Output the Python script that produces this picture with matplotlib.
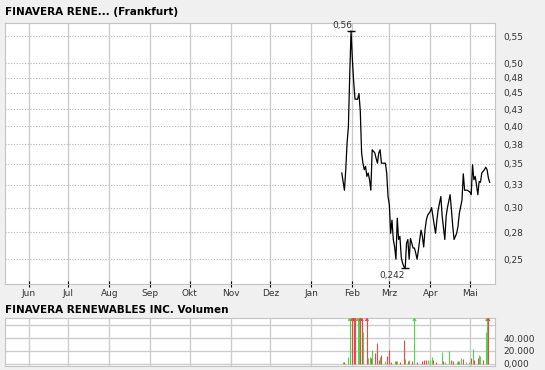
# ------------------------------------------------------------------------------
import numpy as np
import pandas as pd
import matplotlib
matplotlib.use('Agg')
import matplotlib.pyplot as plt
from matplotlib.ticker import FixedLocator, FixedFormatter, NullLocator
# ------------------------------------------------------------------------------
# data
# ------------------------------------------------------------------------------
title_price = 'FINAVERA RENE... (Frankfurt)'
title_volume = 'FINAVERA RENEWABLES INC. Volumen'

price_dates = ['2009-01-24', '2009-01-26', '2009-01-27', '2009-01-28', '2009-01-29',
               '2009-01-30', '2009-01-31', '2009-02-01', '2009-02-02', '2009-02-03',
               '2009-02-05', '2009-02-06', '2009-02-07', '2009-02-08', '2009-02-09',
               '2009-02-10', '2009-02-11', '2009-02-12', '2009-02-13', '2009-02-14',
               '2009-02-15', '2009-02-16', '2009-02-18', '2009-02-19', '2009-02-20',
               '2009-02-21', '2009-02-22', '2009-02-23', '2009-02-26', '2009-02-27',
               '2009-02-28', '2009-03-01', '2009-03-02', '2009-03-03', '2009-03-04',
               '2009-03-05', '2009-03-06', '2009-03-07', '2009-03-08', '2009-03-09',
               '2009-03-10', '2009-03-11', '2009-03-12', '2009-03-13', '2009-03-14',
               '2009-03-15', '2009-03-16', '2009-03-17', '2009-03-18', '2009-03-19',
               '2009-03-20', '2009-03-21', '2009-03-22', '2009-03-23', '2009-03-24',
               '2009-03-25', '2009-03-26', '2009-03-27', '2009-03-28', '2009-03-29',
               '2009-03-30', '2009-04-01', '2009-04-02', '2009-04-04', '2009-04-05',
               '2009-04-06', '2009-04-07', '2009-04-09', '2009-04-10', '2009-04-12',
               '2009-04-13', '2009-04-14', '2009-04-16', '2009-04-17', '2009-04-18',
               '2009-04-19', '2009-04-21', '2009-04-22', '2009-04-23', '2009-04-25',
               '2009-04-26', '2009-04-27', '2009-04-29', '2009-05-01', '2009-05-02',
               '2009-05-03', '2009-05-04', '2009-05-05', '2009-05-06', '2009-05-07',
               '2009-05-08', '2009-05-09', '2009-05-10', '2009-05-11', '2009-05-12',
               '2009-05-13', '2009-05-14', '2009-05-15', '2009-05-16']
price_values = [0.339, 0.319, 0.343, 0.377, 0.399,
                0.479, 0.560, 0.507, 0.468, 0.440,
                0.440, 0.449, 0.422, 0.364, 0.351,
                0.343, 0.347, 0.335, 0.339, 0.331,
                0.319, 0.368, 0.364, 0.357, 0.351,
                0.364, 0.368, 0.351, 0.351, 0.339,
                0.312, 0.303, 0.274, 0.287, 0.268,
                0.261, 0.250, 0.289, 0.268, 0.271,
                0.252, 0.2465, 0.2436, 0.242, 0.2645,
                0.268, 0.250, 0.269, 0.2645, 0.260,
                0.260, 0.2554, 0.250, 0.258, 0.268,
                0.277, 0.271, 0.261, 0.277, 0.287,
                0.292, 0.296, 0.300, 0.282, 0.274,
                0.287, 0.298, 0.312, 0.291, 0.268,
                0.291, 0.300, 0.314, 0.298, 0.281,
                0.268, 0.274, 0.281, 0.294, 0.308,
                0.338, 0.319, 0.319, 0.317, 0.314,
                0.349, 0.331, 0.335, 0.325, 0.314,
                0.329, 0.328, 0.339, 0.341, 0.343,
                0.346, 0.343, 0.333, 0.328]

# volume, 'g' = up day, 'r' = down day; 100000 means beyond the top of the panel
vol_dates = ['2009-01-25', '2009-01-26', '2009-01-29', '2009-01-30', '2009-02-01',
             '2009-02-02', '2009-02-03', '2009-02-05', '2009-02-06', '2009-02-07',
             '2009-02-08', '2009-02-09', '2009-02-12', '2009-02-13', '2009-02-14',
             '2009-02-15', '2009-02-16', '2009-02-18', '2009-02-20', '2009-02-21',
             '2009-02-22', '2009-02-23', '2009-02-26', '2009-02-27', '2009-03-01',
             '2009-03-02', '2009-03-05', '2009-03-06', '2009-03-07', '2009-03-09',
             '2009-03-12', '2009-03-13', '2009-03-15', '2009-03-16', '2009-03-18',
             '2009-03-20', '2009-03-22', '2009-03-26', '2009-03-27', '2009-03-29',
             '2009-03-30', '2009-04-01', '2009-04-02', '2009-04-03', '2009-04-05',
             '2009-04-10', '2009-04-11', '2009-04-12', '2009-04-15', '2009-04-17',
             '2009-04-18', '2009-04-21', '2009-04-22', '2009-04-23', '2009-04-24',
             '2009-04-26', '2009-04-28', '2009-04-30', '2009-05-02', '2009-05-03',
             '2009-05-04', '2009-05-07', '2009-05-08', '2009-05-09', '2009-05-11',
             '2009-05-13', '2009-05-14', '2009-05-15']
vol_values = [2500, 2500, 10000, 100000, 100000,
              100000, 100000, 100000, 100000, 100000,
              100000, 50000, 100000, 8000, 10000,
              8000, 21000, 16000, 33000, 5000,
              10000, 13000, 4000, 12000, 22000,
              3000, 4000, 4000, 4000, 2000,
              37000, 7000, 4000, 5000, 4000,
              100000, 2000, 4000, 6000, 6000,
              6000, 5000, 11000, 5000, 2000,
              18000, 4000, 3000, 19000, 5000,
              4000, 3000, 4000, 4000, 9000,
              7000, 3000, 2000, 9000, 23000,
              6000, 8000, 14000, 12000, 6000,
              49000, 100000, 100000]
vol_dir = ['g', 'r', 'g', 'g', 'r',
           'r', 'r', 'g', 'g', 'r',
           'r', 'g', 'r', 'g', 'g',
           'r', 'g', 'r', 'r', 'r',
           'g', 'r', 'g', 'r', 'r',
           'r', 'g', 'r', 'g', 'r',
           'r', 'g', 'r', 'g', 'r',
           'g', 'r', 'r', 'r', 'r',
           'g', 'g', 'g', 'r', 'r',
           'g', 'r', 'g', 'g', 'r',
           'r', 'g', 'r', 'g', 'g',
           'r', 'g', 'g', 'r', 'g',
           'r', 'r', 'g', 'g', 'r',
           'g', 'g', 'r']

month_labels = ['Jun', 'Jul', 'Aug', 'Sep', 'Okt', 'Nov', 'Dez',
                'Jan', 'Feb', 'Mrz', 'Apr', 'Mai']
price_ticks = [0.25, 0.275, 0.30, 0.325, 0.35, 0.375, 0.40, 0.425, 0.45, 0.475, 0.50, 0.55]
price_tick_labels = ['0,25', '0,28', '0,30', '0,33', '0,35', '0,38', '0,40',
                     '0,43', '0,45', '0,48', '0,50', '0,55']
vol_ticks = [0, 20000, 40000, 60000]
vol_tick_labels = ['0,000', '20.000', '40.000', '']

# ------------------------------------------------------------------------------
# styling
# ------------------------------------------------------------------------------
bg = '#f0f0f0'
grid_col = '#cccccc'
txt_col = '#333333'
green = '#4cd64c'
red = '#ec4646'
x_start = pd.Timestamp('2008-05-14')
x_end = pd.Timestamp('2009-05-20')
month_starts = pd.date_range('2008-06-01', periods=len(month_labels), freq='MS')

pdates = pd.to_datetime(price_dates)
pvals = np.array(price_values)
vdates = pd.to_datetime(vol_dates)
vvals = np.array(vol_values)

fig = plt.figure(figsize=(5.45, 3.70), dpi=100, facecolor=bg)

# ------------------------------------------------------------------------------
# price panel
# ------------------------------------------------------------------------------
ax = fig.add_axes([5/545, 1-284/370, 490/545, 261/370], facecolor='white')
ax.set_yscale('log')
ax.plot(pdates, pvals, color='black', linewidth=0.9)

imax = np.argmax(pvals)
imin = np.argmin(pvals)
ax.plot(pdates[imax], pvals[imax], marker='_', markersize=6, color='black', mew=1)
ax.plot(pdates[imin], pvals[imin], marker='_', markersize=6, color='black', mew=1)
ax.annotate(('%.2f' % pvals[imax]).replace('.', ','), (pdates[imax], pvals[imax]),
            xytext=(1, 1), textcoords='offset points', ha='right', va='bottom',
            fontsize=6.5, color=txt_col)
ax.annotate(('%.3f' % pvals[imin]).replace('.', ','), (pdates[imin], pvals[imin]),
            xytext=(0, -2), textcoords='offset points', ha='right', va='top',
            fontsize=6.5, color=txt_col)

ax.set_xlim(x_start, x_end)
ax.set_ylim(0.229, 0.576)
ax.yaxis.set_major_locator(FixedLocator(price_ticks))
ax.yaxis.set_major_formatter(FixedFormatter(price_tick_labels))
ax.yaxis.set_minor_locator(NullLocator())
ax.yaxis.tick_right()
ax.tick_params(axis='y', length=0, pad=6, labelsize=6.5, labelcolor=txt_col)
ax.set_xticks(month_starts)
ax.set_xticklabels(month_labels)
ax.tick_params(axis='x', direction='inout', length=4, width=0.8, color='black',
               pad=1.5, labelsize=6.5, labelcolor=txt_col)
ax.xaxis.set_minor_locator(NullLocator())
ax.grid(axis='x', color=grid_col, linewidth=1, linestyle='-')
ax.grid(axis='y', color='#b4b4b4', linewidth=0.8, linestyle=(0, (1, 1.5)))
ax.set_axisbelow(True)
for s in ax.spines.values():
    s.set_color('#c4c4c4')

fig.text(5/545, 1-12/370, title_price, fontsize=7.5, fontweight='bold',
         ha='left', va='center', color='black')

# ------------------------------------------------------------------------------
# volume panel
# ------------------------------------------------------------------------------
vtop = 72000
axv = fig.add_axes([5/545, 1-365.5/370, 490/545, 47.8/370], facecolor='white')
cols = [green if d == 'g' else red for d in vol_dir]
axv.vlines(vdates, 0, np.minimum(vvals, vtop), colors=cols, linewidth=0.8)
over = vvals > vtop
axv.scatter(vdates[over], np.full(over.sum(), vtop * 0.975), marker='^', s=9,
            c=[c for c, o in zip(cols, over) if o], linewidths=0, zorder=3)

axv.set_xlim(x_start, x_end)
axv.set_ylim(-3000, vtop)
axv.set_xticks(month_starts)
axv.tick_params(axis='x', length=0, labelbottom=False)
axv.yaxis.set_major_locator(FixedLocator(vol_ticks))
axv.yaxis.set_major_formatter(FixedFormatter(vol_tick_labels))
axv.yaxis.tick_right()
axv.tick_params(axis='y', length=0, pad=6, labelsize=6.5, labelcolor=txt_col)
axv.grid(True, color=grid_col, linewidth=1, linestyle='-')
axv.set_axisbelow(True)
for s in axv.spines.values():
    s.set_color('#c4c4c4')

fig.text(5/545, 1-310/370, title_volume, fontsize=7.5, fontweight='bold',
         ha='left', va='center', color='black')

plt.savefig('out.png', dpi=100, facecolor=bg)
